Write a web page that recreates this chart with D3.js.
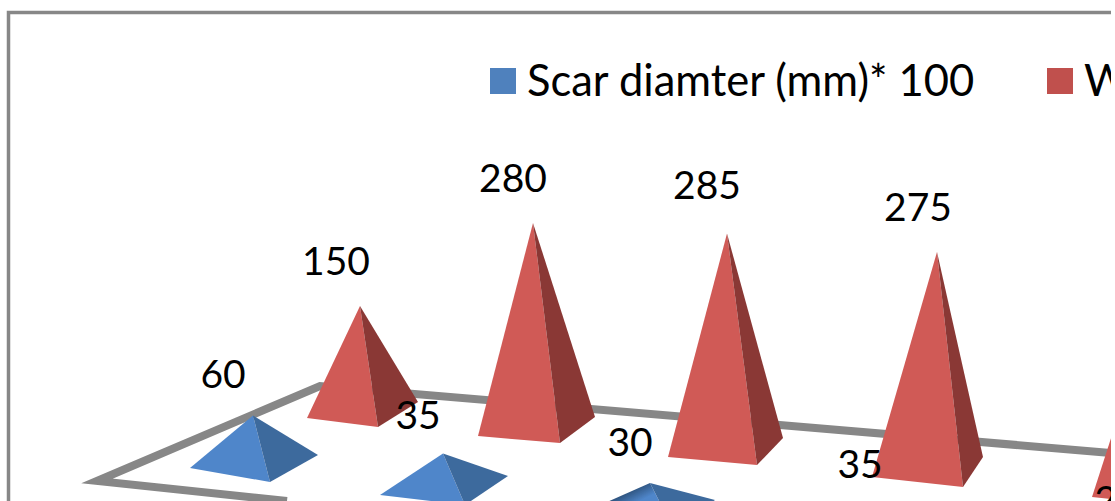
<!DOCTYPE html>
<html>
<head>
<meta charset="utf-8">
<script src="https://cdn.jsdelivr.net/npm/d3@7"></script>
<style>
  html, body { margin: 0; padding: 0; background: #fff; }
  svg { display: block; }
  text { font-family: Lato, "Open Sans", sans-serif; fill: #000; }
</style>
</head>
<body>
<svg id="chart" width="1115" height="501"></svg>
<script>
const categories = [0, 1, 2, 3, 4];
const scarValues = [60, 35, 30, 35, 25];
const wearValues = [150, 280, 285, 275, 270];
const legendLabels = ["Scar diamter (mm)* 100", "Wear"];

const svg = d3.select("#chart");
const defs = svg.append("defs");

defs.append("clipPath").attr("id", "plate")
    .append("rect").attr("width", 1111).attr("height", 501);
defs.append("filter").attr("id", "soft")
    .append("feGaussianBlur").attr("stdDeviation", 0.45);

// the third blue pyramid has a dark shoulder on its lit face
const shade = defs.append("linearGradient").attr("id", "scar-shade")
    .attr("x1", "0%").attr("y1", "0%").attr("x2", "60%").attr("y2", "60%");
shade.append("stop").attr("offset", "55%").attr("stop-color", "#2a4d75");
shade.append("stop").attr("offset", "85%").attr("stop-color", "#4f86ca");

const g = svg.append("g").attr("clip-path", "url(#plate)");

// piecewise scales stand in for the 3d perspective of the original
const piece = range => d3.scaleLinear().domain(categories).range(range);

const wearGeo = {
    x: piece([360, 533, 727, 937, 1165]),
    base: piece([410, 427, 447, 467, 487]),
    perValue: piece([0.693, 0.729, 0.749, 0.782, 0.8]),
    left: piece([-53, -55, -59, -65, -73]),
    leftY: piece([8, 9, 10, 10, 10]),
    front: piece([18, 27, 30, 26, 24]),
    frontY: piece([17, 16, 18, 20, 20]),
    right: piece([58, 62, 56, 46, 44]),
    rightY: piece([-8, -10, -9, -10, -10]),
    labelDx: piece([-24, -20, -20, -19, -19]),
    labelDy: piece([-46, -46, -50, -46, -46]),
    light: i => "#d05a57",
    dark: "#8a3835"
};

const scarGeo = {
    x: piece([253, 443, 650, 885, 1142]),
    base: piece([461, 485, 510, 536, 563]),
    perValue: piece([0.76, 0.9, 0.9, 0.9, 0.9]),
    left: piece([-63, -63, -70, -66, -68]),
    leftY: piece([7, 10, 4, 10, 10]),
    front: piece([17, 22, 24, 24, 24]),
    frontY: piece([21, 20, 20, 20, 20]),
    right: piece([65, 65, 65, 60, 58]),
    rightY: piece([-6, -9, -10, -10, -10]),
    labelDx: piece([-30, -25, -20, -25, -25]),
    labelDy: piece([-42, -40, -42, -42, -42]),
    light: i => i === 2 ? "url(#scar-shade)" : "#4f86ca",
    dark: "#3e6a9d"
};

// floor outline, only the back and left edges are in frame
const floorY = d3.scaleLinear().domain([320, 1111]).range([386, 453]);
const floor = [[287, 501], [97, 481], [320, floorY(320)], [1111, floorY(1111)]];
g.append("path")
    .attr("d", d3.line()(floor))
    .attr("fill", "none")
    .attr("stroke", "#878787")
    .attr("stroke-width", 8)
    .attr("stroke-linejoin", "miter")
    .attr("stroke-miterlimit", 8);

function drawSeries(values, geo, name) {
    const marks = g.append("g").attr("class", name).attr("filter", "url(#soft)");
    const items = values.map((v, i) => {
        const x = geo.x(i), b = geo.base(i);
        return {
            i,
            apex: [x, b - v * geo.perValue(i)],
            left: [x + geo.left(i), b + geo.leftY(i)],
            front: [x + geo.front(i), b + geo.frontY(i)],
            right: [x + geo.right(i), b + geo.rightY(i)]
        };
    });

    marks.selectAll("path.light")
        .data(items)
        .enter()
        .append("path")
        .attr("class", "light")
        .attr("fill", d => geo.light(d.i))
        .attr("d", d => d3.line()([d.apex, d.left, d.front]) + "Z");

    marks.selectAll("path.dark")
        .data(items)
        .enter()
        .append("path")
        .attr("class", "dark")
        .attr("fill", geo.dark)
        .attr("d", d => d3.line()([d.apex, d.front, d.right]) + "Z");
}

drawSeries(wearValues, wearGeo, "wear");
drawSeries(scarValues, scarGeo, "scar");

function drawLabels(values, geo) {
    g.append("g").selectAll("text")
        .data(values)
        .enter()
        .append("text")
        .attr("x", (d, i) => geo.x(i) + geo.labelDx(i))
        .attr("y", (d, i) => geo.base(i) - d * geo.perValue(i) + geo.labelDy(i))
        .attr("text-anchor", "middle")
        .attr("dominant-baseline", "central")
        .style("font-size", "39px")
        .text(d => d);
}

drawLabels(wearValues, wearGeo);
drawLabels(scarValues, scarGeo);

// chart frame, right and bottom sides fall outside the crop
g.append("rect")
    .attr("x", 8.5)
    .attr("y", 12.5)
    .attr("width", 1200)
    .attr("height", 600)
    .attr("fill", "none")
    .attr("stroke", "#878787")
    .attr("stroke-width", 3.5);

const legendColor = d3.scaleOrdinal().domain(legendLabels).range(["#4f81bd", "#c0504d"]);
const legendX = d3.scaleOrdinal().domain(legendLabels).range([490, 1047]);

const legend = g.append("g").selectAll("g")
    .data(legendLabels)
    .enter()
    .append("g")
    .attr("transform", d => `translate(${legendX(d)},68)`);

legend.append("rect")
    .attr("width", 26)
    .attr("height", 26)
    .attr("fill", d => legendColor(d));

legend.append("text")
    .attr("x", 37)
    .attr("y", 27.5)
    .style("font-size", "43.5px")
    .text(d => d);
</script>
</body>
</html>
